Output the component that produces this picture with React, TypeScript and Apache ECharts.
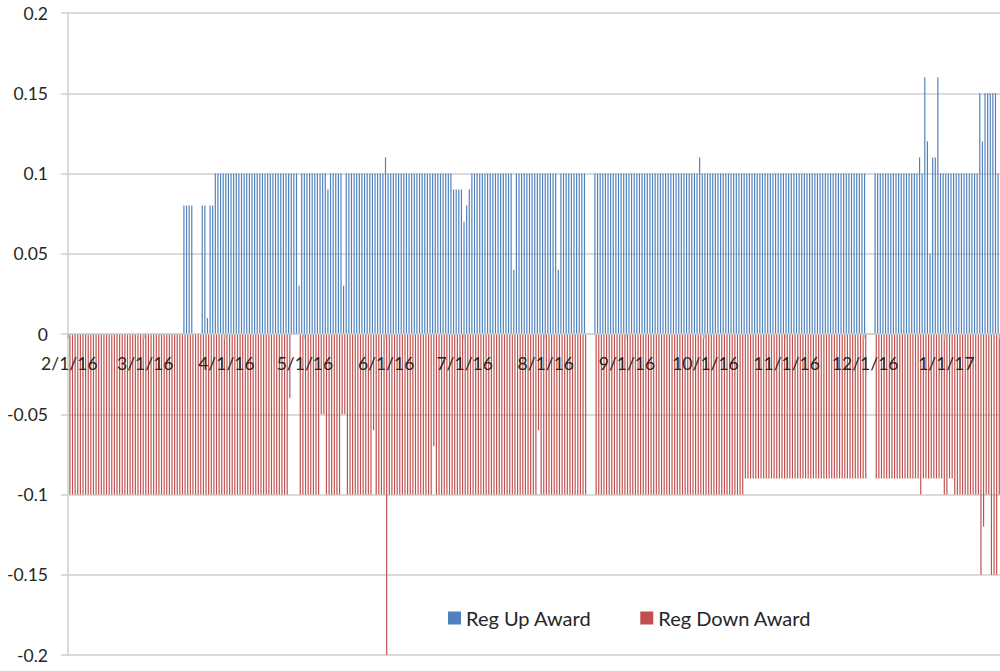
import React, { useEffect, useRef } from "react";
import * as echarts from "echarts";

// ---- Data (daily, 2/1/16 .. 1/21/17) ----
const startYear = 2016;
const startMonth = 1; // February (0-based)
const dayCount = 356;

const upFeb = [0,0,0,0,0,0,0,0,0,0,0,0,0,0,0,0,0,0,0,0,0,0,0,0,0,0,0,0,0];
const upMar = [0,0,0,0,0,0,0,0,0,0,0,0,0,0,0,0.08,0.08,0.08,0.08,0,0,0,0.08,0.08,0.01,0.08,0.08,0.1,0.1,0.1,0.1];
const upApr = [0.1,0.1,0.1,0.1,0.1,0.1,0.1,0.1,0.1,0.1,0.1,0.1,0.1,0.1,0.1,0.1,0.1,0.1,0.1,0.1,0.1,0.1,0.1,0.1,0.1,0.1,0.1,0.1,0.03,0.1];
const upMay = [0.1,0.1,0.1,0.1,0.1,0.1,0.1,0.1,0.1,0.09,0.1,0.1,0.1,0.1,0.1,0.03,0.1,0.1,0.1,0.1,0.1,0.1,0.1,0.1,0.1,0.1,0.1,0.1,0.1,0.1,0.1];
const upJun = [0.11,0.1,0.1,0.1,0.1,0.1,0.1,0.1,0.1,0.1,0.1,0.1,0.1,0.1,0.1,0.1,0.1,0.1,0.1,0.1,0.1,0.1,0.1,0.1,0.1,0.1,0.09,0.09,0.09,0.09];
const upJul = [0.07,0.08,0.09,0.1,0.1,0.1,0.1,0.1,0.1,0.1,0.1,0.1,0.1,0.1,0.1,0.1,0.1,0.1,0.1,0.04,0.1,0.1,0.1,0.1,0.1,0.1,0.1,0.1,0.1,0.1,0.1];
const upAug = [0.1,0.1,0.1,0.1,0.1,0.04,0.1,0.1,0.1,0.1,0.1,0.1,0.1,0.1,0.1,0.1,0,0,0,0.1,0.1,0.1,0.1,0.1,0.1,0.1,0.1,0.1,0.1,0.1,0.1];
const upSep = [0.1,0.1,0.1,0.1,0.1,0.1,0.1,0.1,0.1,0.1,0.1,0.1,0.1,0.1,0.1,0.1,0.1,0.1,0.1,0.1,0.1,0.1,0.1,0.1,0.1,0.1,0.1,0.1,0.11,0.1];
const upOct = [0.1,0.1,0.1,0.1,0.1,0.1,0.1,0.1,0.1,0.1,0.1,0.1,0.1,0.1,0.1,0.1,0.1,0.1,0.1,0.1,0.1,0.1,0.1,0.1,0.1,0.1,0.1,0.1,0.1,0.1,0.1];
const upNov = [0.1,0.1,0.1,0.1,0.1,0.1,0.1,0.1,0.1,0.1,0.1,0.1,0.1,0.1,0.1,0.1,0.1,0.1,0.1,0.1,0.1,0.1,0.1,0.1,0.1,0.1,0.1,0.1,0.1,0.1];
const upDec = [0.1,0,0,0,0.1,0.1,0.1,0.1,0.1,0.1,0.1,0.1,0.1,0.1,0.1,0.1,0.1,0.1,0.1,0.1,0.1,0.11,0.1,0.16,0.12,0.05,0.11,0.11,0.16,0.1,0.1];
const upJan = [0.1,0.1,0.1,0.1,0.1,0.1,0.1,0.1,0.1,0.1,0.1,0.1,0.1,0.15,0.12,0.15,0.15,0.15,0.15,0.15,0.1];

const downFeb = [-0.1,-0.1,-0.1,-0.1,-0.1,-0.1,-0.1,-0.1,-0.1,-0.1,-0.1,-0.1,-0.1,-0.1,-0.1,-0.1,-0.1,-0.1,-0.1,-0.1,-0.1,-0.1,-0.1,-0.1,-0.1,-0.1,-0.1,-0.1,-0.1];
const downMar = [-0.1,-0.1,-0.1,-0.1,-0.1,-0.1,-0.1,-0.1,-0.1,-0.1,-0.1,-0.1,-0.1,-0.1,-0.1,-0.1,-0.1,-0.1,-0.1,-0.1,-0.1,-0.1,-0.1,-0.1,-0.1,-0.1,-0.1,-0.1,-0.1,-0.1,-0.1];
const downApr = [-0.1,-0.1,-0.1,-0.1,-0.1,-0.1,-0.1,-0.1,-0.1,-0.1,-0.1,-0.1,-0.1,-0.1,-0.1,-0.1,-0.1,-0.1,-0.1,-0.1,-0.1,-0.1,-0.1,-0.1,-0.04,0,0,0,-0.1,-0.1];
const downMay = [-0.1,-0.1,-0.1,-0.1,-0.1,-0.1,-0.05,-0.05,-0.1,-0.1,-0.1,-0.1,-0.1,-0.1,-0.05,-0.05,-0.1,-0.1,-0.1,-0.1,-0.1,-0.1,-0.1,-0.1,-0.1,-0.1,-0.06,-0.1,-0.1,-0.1,-0.1];
const downJun = [-0.2,-0.1,-0.1,-0.1,-0.1,-0.1,-0.1,-0.1,-0.1,-0.1,-0.1,-0.1,-0.1,-0.1,-0.1,-0.1,-0.1,-0.1,-0.07,-0.1,-0.1,-0.1,-0.1,-0.1,-0.1,-0.1,-0.1,-0.1,-0.1,-0.1];
const downJul = [-0.1,-0.1,-0.1,-0.1,-0.1,-0.1,-0.1,-0.1,-0.1,-0.1,-0.1,-0.1,-0.1,-0.1,-0.1,-0.1,-0.1,-0.1,-0.1,-0.1,-0.1,-0.1,-0.1,-0.1,-0.1,-0.1,-0.1,-0.1,-0.06,-0.1,-0.1];
const downAug = [-0.1,-0.1,-0.1,-0.1,-0.1,-0.1,-0.1,-0.1,-0.1,-0.1,-0.1,-0.1,-0.1,-0.1,-0.1,-0.1,0,0,0,-0.1,-0.1,-0.1,-0.1,-0.1,-0.1,-0.1,-0.1,-0.1,-0.1,-0.1,-0.1];
const downSep = [-0.1,-0.1,-0.1,-0.1,-0.1,-0.1,-0.1,-0.1,-0.1,-0.1,-0.1,-0.1,-0.1,-0.1,-0.1,-0.1,-0.1,-0.1,-0.1,-0.1,-0.1,-0.1,-0.1,-0.1,-0.1,-0.1,-0.1,-0.1,-0.1,-0.1];
const downOct = [-0.1,-0.1,-0.1,-0.1,-0.1,-0.1,-0.1,-0.1,-0.1,-0.1,-0.1,-0.1,-0.1,-0.1,-0.1,-0.09,-0.09,-0.09,-0.09,-0.09,-0.09,-0.09,-0.09,-0.09,-0.09,-0.09,-0.09,-0.09,-0.09,-0.09,-0.09];
const downNov = [-0.09,-0.09,-0.09,-0.09,-0.09,-0.09,-0.09,-0.09,-0.09,-0.09,-0.09,-0.09,-0.09,-0.09,-0.09,-0.09,-0.09,-0.09,-0.09,-0.09,-0.09,-0.09,-0.09,-0.09,-0.09,-0.09,-0.09,-0.09,-0.09,-0.09];
const downDec = [-0.09,0,0,0,-0.09,-0.09,-0.09,-0.09,-0.09,-0.09,-0.09,-0.09,-0.09,-0.09,-0.09,-0.09,-0.09,-0.09,-0.09,-0.09,-0.09,-0.1,-0.09,-0.09,-0.09,-0.09,-0.09,-0.09,-0.09,-0.09,-0.1];
const downJan = [-0.1,-0.09,-0.09,-0.1,-0.1,-0.1,-0.1,-0.1,-0.1,-0.1,-0.1,-0.1,-0.1,-0.15,-0.12,-0.1,-0.1,-0.15,-0.15,-0.15,-0.1];

const regUp = [...upFeb, ...upMar, ...upApr, ...upMay, ...upJun, ...upJul, ...upAug, ...upSep, ...upOct, ...upNov, ...upDec, ...upJan];
const regDown = [...downFeb, ...downMar, ...downApr, ...downMay, ...downJun, ...downJul, ...downAug, ...downSep, ...downOct, ...downNov, ...downDec, ...downJan];

function buildDates(): string[] {
  const out: string[] = [];
  for (let i = 0; i < dayCount; i++) {
    const d = new Date(Date.UTC(startYear, startMonth, 1 + i));
    const yy = String(d.getUTCFullYear() % 100).padStart(2, "0");
    out.push(`${d.getUTCMonth() + 1}/${d.getUTCDate()}/${yy}`);
  }
  return out;
}
const dates = buildDates();

const FONT = "Lato";
const TEXT = "#262626";
const GRID = "#CFCFCF";
const GRID_TOP = 13;
const GRID_BOTTOM = 16;
const CHART_H = 671;

export default function App() {
  const ref = useRef<HTMLDivElement>(null);
  useEffect(() => {
    if (!ref.current) return;
    const chart = echarts.init(ref.current, null, { renderer: "svg" });
    const isMonthStart = (_i: number, v: string) => v.split("/")[1] === "1";
    const plotH = CHART_H - GRID_TOP - GRID_BOTTOM;
    chart.setOption({
      animation: false,
      backgroundColor: "#ffffff",
      textStyle: { fontFamily: FONT },
      grid: {
        left: 68,
        right: 0,
        top: GRID_TOP,
        bottom: GRID_BOTTOM,
        containLabel: false,
        outerBoundsMode: "none",
      },
      legend: {
        left: 443,
        top: 603,
        itemWidth: 13,
        itemHeight: 13,
        itemGap: 49,
        icon: "rect",
        textStyle: { fontFamily: FONT, fontSize: 20, color: TEXT },
        data: ["Reg Up Award", "Reg Down Award"],
      },
      xAxis: {
        type: "category",
        data: dates,
        boundaryGap: true,
        position: "bottom",
        offset: -plotH / 2,
        axisLine: { onZero: false, lineStyle: { color: GRID, width: 1.5 } },
        axisTick: { show: true, interval: isMonthStart, length: 5, lineStyle: { color: "#BDBDBD", width: 1.5 } },
        axisLabel: {
          interval: isMonthStart,
          margin: 20,
          fontFamily: FONT,
          fontSize: 17.5,
          color: TEXT,
        },
        splitLine: { show: false },
        z: 5,
      },
      yAxis: {
        type: "value",
        min: -0.2,
        max: 0.2,
        interval: 0.05,
        axisLine: { show: true, lineStyle: { color: GRID, width: 1.5 } },
        axisTick: { show: true, length: 7, lineStyle: { color: GRID, width: 1.5 } },
        axisLabel: { margin: 20, fontFamily: FONT, fontSize: 17.5, color: TEXT },
        splitLine: { show: true, lineStyle: { color: GRID, width: 1.5 } },
      },
      series: [
        {
          name: "Reg Up Award",
          type: "bar",
          data: regUp,
          itemStyle: { color: "#4F81BD" },
          barGap: "0%",
          barCategoryGap: "10%",
          z: 2,
        },
        {
          name: "Reg Down Award",
          type: "bar",
          data: regDown,
          itemStyle: { color: "#C0504D" },
          barGap: "0%",
          barCategoryGap: "10%",
          z: 2,
        },
      ],
    });
    return () => chart.dispose();
  }, []);
  return (
    <div
      ref={ref}
      style={{ position: "fixed", left: 0, top: 0, width: 1000, height: CHART_H, background: "#fff" }}
    />
  );
}
